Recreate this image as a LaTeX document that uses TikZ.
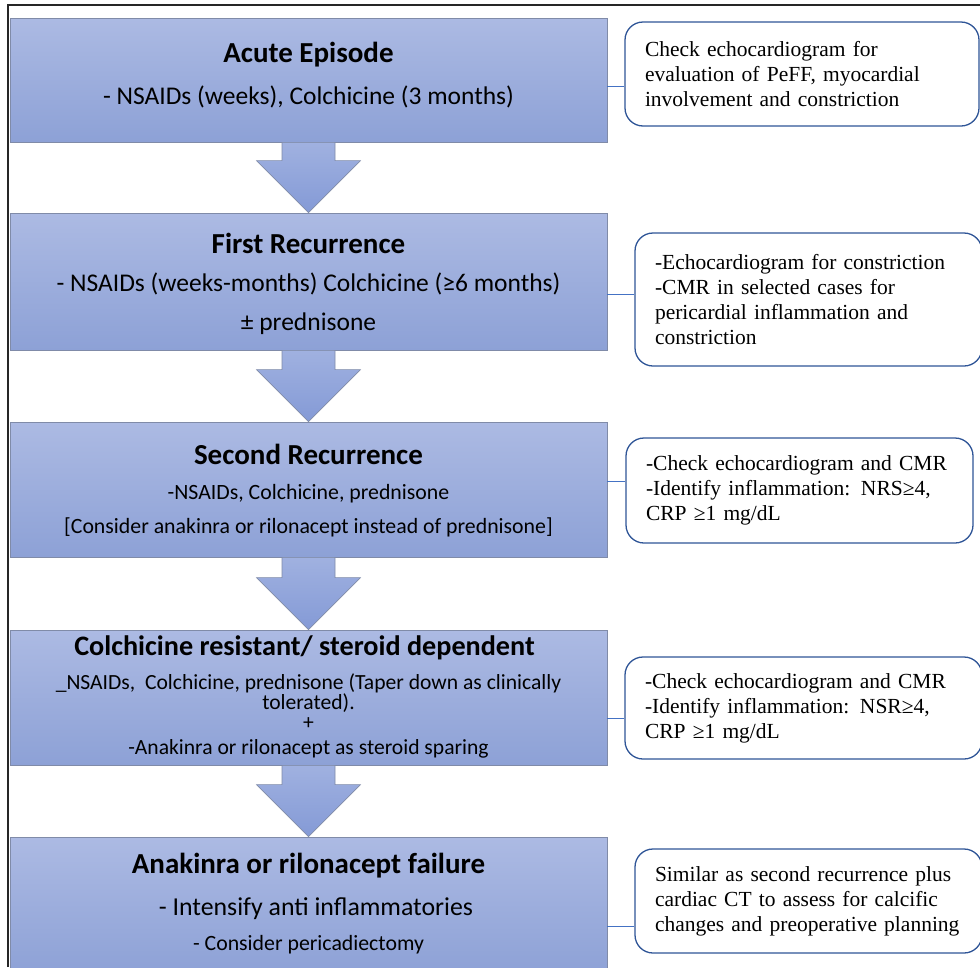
\documentclass[tikz,border=0pt]{standalone}
\usepackage{fontspec}
\setmainfont{Carlito}
\newfontfamily\notefont{Liberation Serif}
\usepackage{tikz}
\usetikzlibrary{positioning}
\usetikzlibrary{calc}

\definecolor{boxtop}{RGB}{172,186,227}
\definecolor{boxbot}{RGB}{141,161,214}
\definecolor{boxline}{RGB}{128,139,168}
\definecolor{arrowtop}{RGB}{160,177,224}
\definecolor{arrowbot}{RGB}{132,154,214}
\definecolor{noteline}{RGB}{47,85,151}
\definecolor{linkline}{RGB}{68,114,196}

\newcommand{\stagearrow}[2]{%
  \path [bigarrow] ($(#1.south)+(-26.5,0)$) -- ($(#2.north)+(-26.5,-52)$)
    -- ($(#2.north)+(-52,-52)$) -- (#2.north) -- ($(#2.north)+(52,-52)$)
    -- ($(#2.north)+(26.5,-52)$) -- ($(#1.south)+(26.5,0)$) -- cycle;}

\begin{document}
\begin{tikzpicture}
      [
      x=1pt, y=-1pt,
      stage/.style={rectangle,draw=boxline,line width=0.7pt,top color=boxtop,bottom color=boxbot,inner sep=0pt,minimum width=597pt},
      bigarrow/.style={draw=boxline,line width=0.6pt,top color=arrowtop,bottom color=arrowbot},
      head/.style={inner sep=0pt,font=\bfseries\fontsize{29}{33}\selectfont},
      body/.style={inner sep=0pt,align=center,font=\fontsize{25.5}{39}\selectfont},
      smallbody/.style={inner sep=0pt,align=center,font=\fontsize{21.8}{34}\selectfont},
      note/.style={rectangle,rounded corners=18pt,draw=noteline,line width=1.3pt,fill=white,inner xsep=20pt,inner ysep=0pt,align=left,font=\notefont\fontsize{21.5}{25}\selectfont},
      link/.style={draw=linkline,line width=0.9pt},
      frame/.style={draw=black!85,line width=1.4pt}
      ]
      \useasboundingbox (0,0) rectangle (980,967);
      \draw [frame] (8,967) -- (8,5) -- (980,5);
      % stages
      \node (acute) at (308.5,80) [stage,minimum height=124pt] {};
      \node (first) at (308.5,281.5) [stage,minimum height=137pt] {};
      \node (second) at (308.5,489.5) [stage,minimum height=135pt] {};
      \node (resist) at (308.5,697.5) [stage,minimum height=135pt] {};
      \node (failure) at (308.5,906) [stage,minimum height=138pt] {};
      \stagearrow{acute}{first}
      \stagearrow{first}{second}
      \stagearrow{second}{resist}
      \stagearrow{resist}{failure}
      % stage texts
      \node (acuteHead) at (308.5,55) [head] {Acute Episode};
      \node (acuteBody) at (308.5,97) [body] {- NSAIDs (weeks), Colchicine (3 months)};
      \node (firstHead) at (308.5,243) [head] {First Recurrence};
      \node (firstBody) at (308.5,303.5) [body] {- NSAIDs (weeks-months) Colchicine (≥6 months)\\± prednisone};
      \node (secondHead) at (308.5,454) [head] {Second Recurrence};
      \node (secondBody) at (308.5,511) [smallbody] {-NSAIDs, Colchicine, prednisone\\{}[Consider anakinra or rilonacept instead of prednisone]};
      \node (resistHead) at (304.5,648) [head,font=\bfseries\fontsize{28.2}{33}\selectfont] {Colchicine resistant/ steroid dependent};
      \node (resistBody) at (308.5,716) [smallbody,font=\fontsize{21.6}{19}\selectfont] {\_NSAIDs,\ \ Colchicine, prednisone (Taper down as clinically\\tolerated).\\[1pt]+\\[6pt]-Anakinra or rilonacept as steroid sparing};
      \node (failureHead) at (308.5,866) [head] {Anakinra or rilonacept failure};
      \node (failureBody) at (316,909) [body,font=\fontsize{25.8}{39}\selectfont] {- Intensify anti inflammatories};
      \node (failureStep) at (308.5,945) [smallbody] {- Consider pericadiectomy};
      % checks
      \node (echoA) at (802,74) [note,minimum height=104pt,text width=314pt] {Check echocardiogram for\\evaluation of PeFF, myocardial\\involvement and constriction};
      \node (echoB) at (808.5,299.5) [note,minimum height=133pt,text width=307pt] {-Echocardiogram for constriction\\-CMR in selected cases for\\pericardial inflammation and\\constriction};
      \node (echoC) at (799.5,490.5) [note,minimum height=105pt,text width=307pt] {-Check echocardiogram and CMR\\-Identify inflammation: NRS≥4,\\CRP ≥1 mg/dL};
      \node (echoD) at (803.5,708) [note,minimum height=102pt,text width=317pt] {-Check echocardiogram and CMR\\-Identify inflammation: NSR≥4,\\CRP ≥1 mg/dL};
      \node (ctE) at (808.5,901) [note,minimum height=104pt,text width=307pt] {Similar as second recurrence plus\\cardiac CT to assess for calcific\\changes and preoperative planning};
      \coordinate (tapA) at ($(echoA.west)+(0,12)$);
      \coordinate (tapB) at ($(echoB.west)+(0,-5.5)$);
      \coordinate (tapC) at ($(echoC.west)+(0,-9.5)$);
      \coordinate (tapD) at ($(echoD.west)+(0,10)$);
      \coordinate (tapE) at ($(ctE.west)+(0,25)$);
      \draw [link] (acute.east |- tapA) to (tapA);
      \draw [link] (first.east |- tapB) to (tapB);
      \draw [link] (second.east |- tapC) to (tapC);
      \draw [link] (resist.east |- tapD) to (tapD);
      \draw [link] (failure.east |- tapE) to (tapE);
    \end{tikzpicture}
\end{document}
